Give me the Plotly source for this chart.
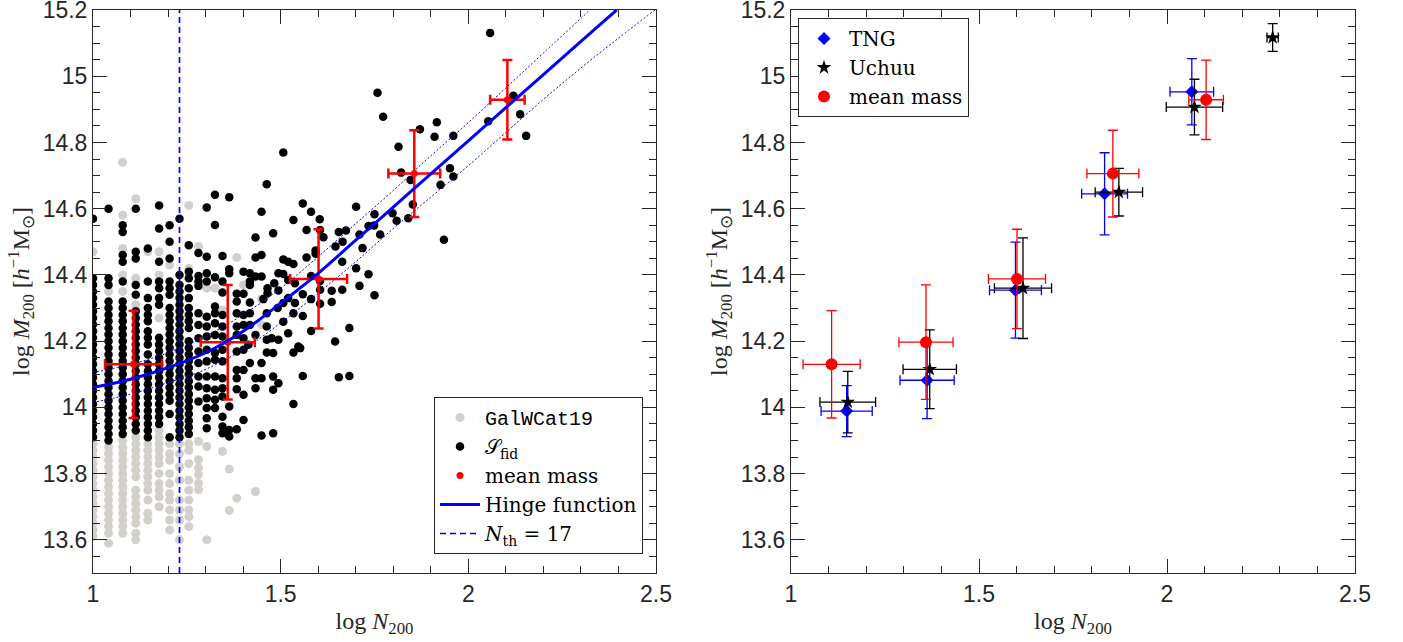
import numpy as np
import plotly.graph_objects as go

# ---------------- data: left panel scatter (columns at integer richness) ----------------
col_N = [10, 11, 12, 13, 14, 15, 16, 17, 18]

fid_n10 = [14.57, 14.39, 14.37, 14.35, 14.33, 14.31, 14.29, 14.27, 14.25, 14.23, 14.21, 14.19, 14.17,
           14.15, 14.13, 14.11, 14.09, 14.07, 14.05, 14.03, 14.01, 13.99, 13.97, 13.95, 13.93, 13.91]
fid_n11 = [14.60, 14.39, 14.37, 14.32, 14.30, 14.28, 14.26, 14.24, 14.22, 14.20, 14.18, 14.16, 14.14,
           14.12, 14.10, 14.08, 14.06, 14.04, 14.02, 14.00, 13.98, 13.96, 13.94, 13.92, 13.90]
fid_n12 = [14.55, 14.53, 14.46, 14.44, 14.38, 14.32, 14.30, 14.28, 14.26, 14.24, 14.22, 14.20, 14.18,
           14.16, 14.14, 14.12, 14.10, 14.08, 14.06, 14.04, 14.02, 14.00, 13.98, 13.96, 13.94, 13.92]
fid_n13 = [14.60, 14.47, 14.45, 14.37, 14.34, 14.29, 14.27, 14.25, 14.23, 14.21, 14.19, 14.17, 14.15,
           14.13, 14.11, 14.09, 14.07, 14.05, 14.03, 14.01, 13.99, 13.97, 13.95, 13.93]
fid_n14 = [14.48, 14.38, 14.33, 14.30, 14.28, 14.26, 14.23, 14.21, 14.19, 14.16, 14.13, 14.11, 14.09,
           14.07, 14.05, 14.03, 14.01, 13.99, 13.97, 13.95, 13.93, 13.91]
fid_n15 = [14.61, 14.54, 14.44, 14.38, 14.36, 14.33, 14.31, 14.21, 14.19, 14.17, 14.15, 14.13, 14.11,
           14.09, 14.07, 14.05, 14.03, 14.01, 13.99, 13.97, 13.95]
fid_n16 = [14.55, 14.50, 14.45, 14.38, 14.36, 14.34, 14.30, 14.28, 14.26, 14.24, 14.22, 14.20, 14.18,
           14.16, 14.14, 14.12, 14.10, 14.08, 14.06, 14.04, 14.02, 13.98, 13.91]
fid_n17 = [14.57, 14.40, 14.37, 14.35, 14.33, 14.31, 14.29, 14.27, 14.25, 14.23, 14.21, 14.19, 14.17,
           14.15, 14.13, 14.11, 14.09, 14.07, 14.05, 14.03, 14.01, 13.99, 13.97, 13.95, 13.93, 13.91]
fid_n18 = [14.49, 14.41, 14.39, 14.36, 14.33, 14.30, 14.28, 14.26, 14.24, 14.20, 14.18, 14.16, 14.14,
           14.12, 14.10, 14.08, 14.06, 14.04, 14.02, 14.00, 13.98, 13.96, 13.94, 13.92]
fid_cols = [fid_n10, fid_n11, fid_n12, fid_n13, fid_n14, fid_n15, fid_n16, fid_n17, fid_n18]

gal_n10 = [14.47, 13.89, 13.87, 13.85, 13.83, 13.81, 13.79, 13.77, 13.75, 13.73, 13.71, 13.69, 13.67,
           13.65, 13.63, 13.61]
gal_n11 = [14.35, 13.88, 13.86, 13.84, 13.82, 13.80, 13.78, 13.76, 13.74, 13.72, 13.70, 13.68, 13.66,
           13.64, 13.62, 13.59]
gal_n12 = [14.74, 14.58, 14.48, 14.40, 14.35, 13.90, 13.88, 13.86, 13.84, 13.82, 13.80, 13.78, 13.76,
           13.74, 13.72, 13.70, 13.68, 13.66, 13.64, 13.62]
gal_n13 = [14.63, 14.39, 14.31, 13.91, 13.89, 13.87, 13.85, 13.83, 13.81, 13.79, 13.75, 13.73, 13.71,
           13.69, 13.67, 13.65, 13.62, 13.60]
gal_n14 = [14.47, 13.89, 13.87, 13.85, 13.83, 13.81, 13.79, 13.77, 13.75, 13.72, 13.68, 13.66]
gal_n15 = [14.47, 14.40, 14.27, 13.93, 13.91, 13.89, 13.87, 13.85, 13.83, 13.80, 13.77, 13.75, 13.73, 13.70]
gal_n16 = [14.43, 13.89, 13.86, 13.84, 13.80, 13.77, 13.74, 13.72, 13.69, 13.66, 13.63]
gal_n17 = [13.89, 13.86, 13.82, 13.78, 13.72, 13.69, 13.66, 13.60]
gal_n18 = [14.61, 14.42, 13.89, 13.87, 13.83, 13.78, 13.75, 13.72, 13.69, 13.67, 13.64]
gal_cols = [gal_n10, gal_n11, gal_n12, gal_n13, gal_n14, gal_n15, gal_n16, gal_n17, gal_n18]

# scattered clusters at higher richness: (log N200, log M200)
fid_pts = [
    (1.463, 14.674), (1.325, 14.642), (1.363, 14.635), (1.303, 14.604), (1.449, 14.591), (1.534, 14.566),
    (1.325, 14.551), (1.480, 14.526), (1.433, 14.513), (1.507, 14.770),
    (1.281, 14.466), (1.303, 14.455), (1.345, 14.457), (1.433, 14.453), (1.449, 14.460), (1.507, 14.447),
    (1.520, 14.440), (1.534, 14.433), (1.363, 14.417), (1.363, 14.405), (1.401, 14.410), (1.418, 14.405),
    (1.494, 14.405), (1.507, 14.403), (1.281, 14.397), (1.281, 14.380), (1.281, 14.367), (1.303, 14.405),
    (1.303, 14.380), (1.325, 14.393), (1.345, 14.380), (1.418, 14.380), (1.433, 14.395), (1.449, 14.395),
    (1.383, 14.343), (1.401, 14.343), (1.418, 14.370), (1.465, 14.360), (1.483, 14.375), (1.465, 14.345),
    (1.494, 14.353), (1.520, 14.385), (1.538, 14.375), (1.345, 14.347), (1.383, 14.320), (1.418, 14.317),
    (1.454, 14.327), (1.507, 14.315), (1.520, 14.330), (1.538, 14.315),
    (1.281, 14.284), (1.303, 14.274), (1.325, 14.305), (1.325, 14.284), (1.345, 14.279), (1.383, 14.284),
    (1.401, 14.279), (1.418, 14.284), (1.463, 14.284), (1.492, 14.300), (1.534, 14.284),
    (1.281, 14.249), (1.303, 14.244), (1.325, 14.254), (1.345, 14.244), (1.383, 14.244), (1.401, 14.249),
    (1.418, 14.249), (1.433, 14.219), (1.463, 14.244), (1.507, 14.259), (1.520, 14.224),
    (1.281, 14.209), (1.303, 14.214), (1.325, 14.219), (1.345, 14.214), (1.383, 14.219), (1.401, 14.209),
    (1.414, 14.189), (1.463, 14.204), (1.476, 14.209), (1.494, 14.204),
    (1.281, 14.169), (1.303, 14.174), (1.325, 14.164), (1.345, 14.174), (1.383, 14.169), (1.401, 14.174),
    (1.463, 14.166), (1.480, 14.164), (1.534, 14.166), (1.547, 14.184),
    (1.281, 14.134), (1.303, 14.139), (1.325, 14.144), (1.345, 14.139), (1.383, 14.113), (1.401, 14.113),
    (1.418, 14.134), (1.449, 14.134),
    (1.281, 14.093), (1.303, 14.093), (1.325, 14.093), (1.345, 14.088), (1.383, 14.088), (1.433, 14.088),
    (1.449, 14.088), (1.480, 14.093),
    (1.281, 14.063), (1.303, 14.058), (1.325, 14.053), (1.345, 14.058), (1.383, 14.055), (1.433, 14.058),
    (1.480, 14.053), (1.494, 14.073),
    (1.281, 14.018), (1.303, 14.028), (1.325, 14.023), (1.345, 14.033), (1.401, 14.038), (1.534, 14.010),
    (1.303, 13.998), (1.325, 13.998), (1.363, 14.003), (1.303, 13.967), (1.345, 13.972), (1.401, 13.962),
    (1.303, 13.937), (1.345, 13.942), (1.345, 13.922), (1.363, 13.932), (1.363, 13.912), (1.383, 13.934),
    (1.449, 13.915), (1.480, 13.922),
    (1.758, 14.950), (1.773, 14.878), (1.871, 14.840), (1.916, 14.861), (1.910, 14.817), (1.960, 14.820),
    (1.814, 14.787), (2.120, 14.941), (2.053, 14.864), (2.138, 14.885), (2.154, 14.820), (1.821, 14.709),
    (1.846, 14.687), (1.951, 14.722), (1.960, 14.697), (1.926, 14.672), (1.852, 14.613), (1.798, 14.586),
    (1.809, 14.564), (1.840, 14.571), (1.935, 14.506), (1.701, 14.606), (1.750, 14.583), (1.734, 14.548),
    (1.749, 14.549), (1.710, 14.522), (1.765, 14.522), (1.559, 14.616), (1.581, 14.591), (1.604, 14.568),
    (1.569, 14.536), (1.605, 14.536), (1.614, 14.514), (1.655, 14.530), (1.674, 14.534), (1.646, 14.486),
    (1.665, 14.500), (1.718, 14.481), (1.593, 14.474), (1.593, 14.464), (1.569, 14.453), (1.664, 14.440),
    (1.701, 14.420), (1.734, 14.402), (1.581, 14.397), (1.605, 14.382), (1.710, 14.367), (1.636, 14.352),
    (1.664, 14.355), (1.559, 14.342), (1.605, 14.355), (1.750, 14.339), (1.581, 14.327), (1.636, 14.318),
    (1.605, 14.313), (1.559, 14.276), (1.581, 14.231), (1.683, 14.240), (1.645, 14.199), (1.552, 14.179),
    (1.559, 14.095), (1.655, 14.091), (1.683, 14.095), (2.058, 15.131),
]
gal_pts = [
    (1.281, 14.486), (1.383, 14.453), (1.303, 14.360), (1.325, 14.360), (1.401, 14.370), (1.449, 14.327),
    (1.449, 14.249), (1.345, 14.294), (1.281, 13.897), (1.303, 13.882), (1.345, 13.867), (1.281, 13.842),
    (1.281, 13.817), (1.281, 13.797), (1.281, 13.771), (1.281, 13.751), (1.363, 13.814), (1.433, 13.746),
    (1.383, 13.726), (1.363, 13.689), (1.303, 13.600),
]

# mean mass in richness bins (shared by both panels)
mm_logN = [1.108, 1.359, 1.601, 1.856, 2.104]
mm_logM = [14.130, 14.197, 14.388, 14.706, 14.929]
mm_xerr = [0.076, 0.072, 0.076, 0.069, 0.046]
mm_yerr = [0.162, 0.173, 0.150, 0.131, 0.120]

# hinge-function fit and its band
hinge_x = [1.00, 1.10, 1.20, 1.30, 1.40, 1.50, 1.60, 1.70, 1.80, 1.90, 2.00, 2.10, 2.20, 2.30, 2.395]
hinge_y = [14.060, 14.085, 14.120, 14.165, 14.230, 14.315, 14.405, 14.505, 14.605, 14.705, 14.805,
           14.905, 15.005, 15.105, 15.200]
band_hi_x = [1.00, 1.10, 1.20, 1.30, 1.40, 1.50, 1.60, 1.70, 1.80, 1.90, 2.00, 2.10, 2.20, 2.324]
band_hi_y = [14.105, 14.130, 14.165, 14.215, 14.280, 14.360, 14.455, 14.555, 14.655, 14.760, 14.860,
             14.965, 15.070, 15.200]
band_lo_x = [1.00, 1.10, 1.20, 1.30, 1.40, 1.50, 1.60, 1.70, 1.80, 1.90, 2.00, 2.10, 2.20, 2.30, 2.40, 2.497]
band_lo_y = [14.015, 14.040, 14.075, 14.115, 14.175, 14.255, 14.345, 14.440, 14.540, 14.635, 14.730,
             14.830, 14.930, 15.025, 15.115, 15.200]
N_th = 17

# ---------------- data: right panel ----------------
tng_logN = [1.148, 1.362, 1.597, 1.834, 2.066]
tng_logM = [13.989, 14.082, 14.354, 14.645, 14.953]
tng_xerr = [0.068, 0.072, 0.069, 0.061, 0.058]
tng_yerr = [0.077, 0.116, 0.145, 0.124, 0.100]

uch_logN = [1.151, 1.369, 1.617, 1.872, 2.073, 2.281]
uch_logM = [14.016, 14.115, 14.360, 14.650, 14.907, 15.117]
uch_xerr = [0.074, 0.071, 0.076, 0.063, 0.075, 0.015]
uch_yerr = [0.093, 0.119, 0.152, 0.072, 0.084, 0.042]

x_ticks = [1, 1.5, 2, 2.5]
x_ticktext = ["1", "1.5", "2", "2.5"]
y_ticks = [13.6, 13.8, 14.0, 14.2, 14.4, 14.6, 14.8, 15.0, 15.2]
y_ticktext = ["13.6", "13.8", "14", "14.2", "14.4", "14.6", "14.8", "15", "15.2"]
x_range = [1, 2.5]
y_range = [13.5, 15.2]

# ---------------- build ----------------
def expand_cols(ns, cols):
    xs, ys = [], []
    for n, vals in zip(ns, cols):
        xs += [float(np.log10(n))] * len(vals)
        ys += list(vals)
    return xs, ys

fx, fy = expand_cols(col_N, fid_cols)
gx, gy = expand_cols(col_N, gal_cols)
fx += [p[0] for p in fid_pts]
fy += [p[1] for p in fid_pts]
gx += [p[0] for p in gal_pts]
gy += [p[1] for p in gal_pts]

SERIF = "Liberation Serif"
LEGF = "DejaVu Serif"
SANS = "Liberation Sans"
AX = "#262626"
GREY = "#d3d0cb"

fig = go.Figure()

fig.add_trace(go.Scatter(x=gx, y=gy, mode="markers",
                         name='<span style="font-family:Liberation Mono">GalWCat19</span>',
                         marker=dict(color=GREY, size=9), xaxis="x", yaxis="y", legend="legend"))
fig.add_trace(go.Scatter(x=fx, y=fy, mode="markers", name="𝒮<sub>fid</sub>",
                         marker=dict(color="black", size=8.5), xaxis="x", yaxis="y", legend="legend"))
fig.add_trace(go.Scatter(x=band_hi_x, y=band_hi_y, mode="lines",
                         line=dict(color="blue", width=1, dash="2px,2px", shape="spline"),
                         showlegend=False, xaxis="x", yaxis="y"))
fig.add_trace(go.Scatter(x=band_lo_x, y=band_lo_y, mode="lines",
                         line=dict(color="blue", width=1, dash="2px,2px", shape="spline"),
                         showlegend=False, xaxis="x", yaxis="y"))
fig.add_trace(go.Scatter(x=mm_logN, y=mm_logM, mode="markers", name="mean mass",
                         marker=dict(color="red", size=7),
                         error_x=dict(type="data", array=mm_xerr, color="red", thickness=2.5, width=5),
                         error_y=dict(type="data", array=mm_yerr, color="red", thickness=2.5, width=5),
                         xaxis="x", yaxis="y", legend="legend"))
fig.add_trace(go.Scatter(x=hinge_x, y=hinge_y, mode="lines", name="Hinge function",
                         line=dict(color="blue", width=3, shape="spline"), xaxis="x", yaxis="y", legend="legend"))
fig.add_trace(go.Scatter(x=[np.log10(N_th)] * 2, y=y_range, mode="lines", name="<i>N</i><sub>th</sub> = 17",
                         line=dict(color="#0000ff", width=1.7, dash="6px,4px"), xaxis="x", yaxis="y", legend="legend"))

# right panel
fig.add_trace(go.Scatter(x=tng_logN, y=tng_logM, mode="markers", name="TNG",
                         marker=dict(color="blue", size=10, symbol="diamond"),
                         error_x=dict(type="data", array=tng_xerr, color="blue", thickness=1.3, width=5),
                         error_y=dict(type="data", array=tng_yerr, color="blue", thickness=1.3, width=5),
                         xaxis="x2", yaxis="y2", legend="legend2"))
fig.add_trace(go.Scatter(x=uch_logN, y=uch_logM, mode="markers", name="Uchuu",
                         marker=dict(color="black", size=11, symbol="star"),
                         error_x=dict(type="data", array=uch_xerr, color="black", thickness=1.3, width=5),
                         error_y=dict(type="data", array=uch_yerr, color="black", thickness=1.3, width=5),
                         xaxis="x2", yaxis="y2", legend="legend2"))
fig.add_trace(go.Scatter(x=mm_logN, y=mm_logM, mode="markers", name="mean mass",
                         marker=dict(color="red", size=12),
                         error_x=dict(type="data", array=mm_xerr, color="red", thickness=1.3, width=5),
                         error_y=dict(type="data", array=mm_yerr, color="red", thickness=1.3, width=5),
                         xaxis="x2", yaxis="y2", legend="legend2"))

W, H = 1403, 642
y_dom = [69 / H, 1 - 10 / H]

def xax(dom, anchor):
    return dict(domain=dom, anchor=anchor, range=x_range, tickmode="array", tickvals=x_ticks, ticktext=x_ticktext,
                ticks="inside", ticklen=14, tickwidth=1, tickcolor=AX, showline=True, linecolor=AX, linewidth=1,
                mirror="allticks", showgrid=False, zeroline=False, ticklabeloverflow="allow",
                minor=dict(tickmode="linear", tick0=1, dtick=0.1, ticks="inside", ticklen=7, tickcolor=AX,
                           showgrid=False),
                tickfont=dict(family=SANS, size=23, color=AX),
                title=dict(text="log <i>N</i><sub>200</sub>", font=dict(family=SERIF, size=24, color=AX), standoff=6))

def yax(anchor):
    return dict(domain=y_dom, range=[y_range[0] - 1e-4, y_range[1] + 1e-4], anchor=anchor,
                tickmode="array", tickvals=y_ticks, ticktext=y_ticktext,
                ticks="inside", ticklen=14, tickwidth=1, tickcolor=AX, showline=True, linecolor=AX, linewidth=1,
                mirror="allticks", showgrid=False, zeroline=False, ticklabeloverflow="allow",
                minor=dict(tickmode="linear", tick0=13.5, dtick=0.05, ticks="inside", ticklen=7, tickcolor=AX,
                           showgrid=False),
                tickfont=dict(family=SANS, size=23, color=AX),
                title=dict(text="log <i>M</i><sub>200</sub> [<i>h</i><sup>−1</sup>M<sub>⊙</sub>]",
                           font=dict(family=SERIF, size=24, color=AX), standoff=6))

fig.update_layout(
    width=W, height=H, margin=dict(l=0, r=0, t=0, b=0, autoexpand=False),
    paper_bgcolor="white", plot_bgcolor="white", hovermode=False,
    xaxis=xax([93 / W, 656 / W], "y"), yaxis=yax("x"),
    xaxis2=xax([791 / W, 1355 / W], "y2"), yaxis2=yax("x2"),
    legend=dict(x=434 / W, y=1 - 397 / H, xanchor="left", yanchor="top", bgcolor="white",
                bordercolor=AX, borderwidth=1, font=dict(family=LEGF, size=20, color="black"),
                tracegroupgap=0, itemwidth=40),
    legend2=dict(x=798 / W, y=1 - 18 / H, xanchor="left", yanchor="top", bgcolor="white",
                 bordercolor=AX, borderwidth=1, font=dict(family=LEGF, size=20, color="black"),
                 tracegroupgap=0, itemwidth=40),
    showlegend=True,
)

fig.write_html("out.html", config={"displayModeBar": False},
               post_script="document.body.style.margin='0px';")
